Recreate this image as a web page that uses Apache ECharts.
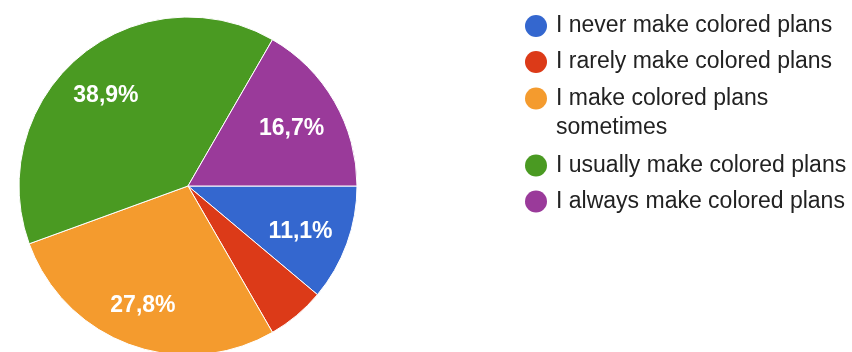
<!DOCTYPE html>
<html>
<head>
<meta charset="utf-8">
<title>Colored plans</title>
<script src="https://cdn.jsdelivr.net/npm/echarts@6/dist/echarts.min.js"></script>
<style>
  html, body { margin: 0; padding: 0; background: #fff; }
  #chart { width: 852px; height: 352px; }
</style>
</head>
<body>
<div id="chart"></div>
<script>
// Survey answers: how often respondents make colored plans (number of answers)
const categories = [
  'I never make colored plans',
  'I rarely make colored plans',
  'I make colored plans sometimes',
  'I usually make colored plans',
  'I always make colored plans'
];
const counts = [2, 1, 5, 7, 3];
const colors = ['#3467cf', '#dc3a18', '#f49b2e', '#4a9a22', '#9a3a9a'];

const FONT = '"Liberation Sans", Arial, Helvetica, sans-serif';

const pieData = categories.map((name, i) => ({ name: name, value: counts[i] }));

// Legend text: the long entry wraps onto a second line; the empty first
// line keeps its marker level with "I make colored plans"
function legendText(name) {
  return name === categories[2] ? '\nI make colored plans\nsometimes' : name;
}

const legendBase = {
  orient: 'vertical',
  left: 525,
  padding: 0,
  icon: 'circle',
  itemWidth: 30,
  itemHeight: 22,
  itemGap: 7,
  selectedMode: false,
  formatter: legendText,
  itemStyle: { borderWidth: 0 },
  textStyle: { fontFamily: FONT, fontSize: 23, color: '#222', lineHeight: 29 }
};

const chart = echarts.init(document.getElementById('chart'), null, { renderer: 'canvas' });

chart.setOption({
  backgroundColor: '#fff',
  animation: false,
  color: colors,
  legend: [
    Object.assign({}, legendBase, { top: 11.5, data: categories.slice(0, 2) }),
    Object.assign({}, legendBase, { top: 55, data: categories.slice(2, 3) }),
    Object.assign({}, legendBase, { top: 151, data: categories.slice(3) })
  ],
  series: [
    {
      // the slices
      type: 'pie',
      center: [188, 186],
      radius: [0, 169],
      startAngle: 0,
      clockwise: true,
      data: pieData,
      label: { show: false },
      labelLine: { show: false },
      itemStyle: { borderColor: '#fff', borderWidth: 1 },
      emphasis: { disabled: true }
    },
    {
      // percentage labels, placed toward the outer part of each slice
      type: 'pie',
      center: [185, 190],
      radius: [71, 169],
      startAngle: 0,
      clockwise: true,
      percentPrecision: 1,
      silent: true,
      data: pieData,
      itemStyle: { color: 'rgba(0,0,0,0)', borderWidth: 0 },
      labelLine: { show: false },
      emphasis: { disabled: true },
      label: {
        show: true,
        position: 'inside',
        color: '#fff',
        fontFamily: FONT,
        fontSize: 23,
        fontWeight: 'bold',
        formatter: function (p) {
          if (p.percent < 8) return '';
          return p.percent.toFixed(1).replace('.', ',') + '%';
        }
      }
    }
  ]
});
</script>
</body>
</html>
